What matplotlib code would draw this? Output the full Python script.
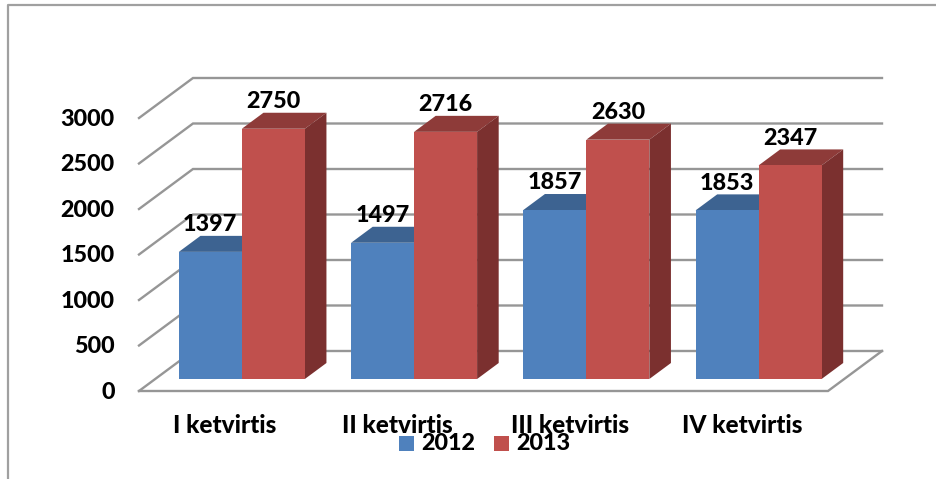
import matplotlib
matplotlib.use('Agg')
import matplotlib.pyplot as plt
from matplotlib.patches import Polygon, Rectangle

categories = ['I ketvirtis', 'II ketvirtis', 'III ketvirtis', 'IV ketvirtis']
values_2012 = [1397, 1497, 1857, 1853]
values_2013 = [2750, 2716, 2630, 2347]
yticks = [0, 500, 1000, 1500, 2000, 2500, 3000]

W, H = 936, 479
plt.rcParams['font.family'] = ['Lato', 'DejaVu Sans']

fig = plt.figure(figsize=(W / 100, H / 100), dpi=100)
fig.patch.set_facecolor('white')
# axes covers the front plane of the 3d box: 4 categories wide, 0-3000 high
ax = fig.add_axes([139 / W, 1 - 391 / H, 689 / W, 273 / H])
ax.set_xlim(0, 4)
ax.set_ylim(0, 3000)
ax.axis('off')

UX = 689 / 4
UY = 273 / 3000
DX, DY = 54, 40  # depth of the box in pixels


def pt(x, v, d=0.0):
    # oblique projection, d goes from 0 (front) to 1 (back wall)
    return (x + d * DX / UX, v + d * DY / UY)


GRID = '#969696'
for t in yticks:
    xs, ys = zip(pt(0, t), pt(0, t, 1), pt(4, t, 1))
    ax.plot(xs, ys, color=GRID, lw=1.7, clip_on=False, zorder=1, solid_joinstyle='miter')
xs, ys = zip(pt(0, 0), pt(4, 0), pt(4, 0, 1))
ax.plot(xs, ys, color=GRID, lw=1.7, clip_on=False, zorder=1, solid_joinstyle='miter')

BW = 63 / UX
D0, D1 = 0.3, 0.7
styles = {
    0: ('#4F81BD', '#3D6391', '#355680'),
    1: ('#C0504D', '#8E3B39', '#7B302F'),
}


def bar3d(x, v, cols, z):
    front, top, side = cols
    ax.add_patch(Polygon([pt(x, 0, D0), pt(x + BW, 0, D0), pt(x + BW, v, D0), pt(x, v, D0)],
                         fc=front, ec='none', zorder=z + 0.2, clip_on=False))
    ax.add_patch(Polygon([pt(x, v, D0), pt(x + BW, v, D0), pt(x + BW, v, D1), pt(x, v, D1)],
                         fc=top, ec='none', zorder=z, clip_on=False))
    ax.add_patch(Polygon([pt(x + BW, 0, D0), pt(x + BW, v, D0), pt(x + BW, v, D1), pt(x + BW, 0, D1)],
                         fc=side, ec='none', zorder=z, clip_on=False))


FS = 16.8
WT = 900
for i, cat in enumerate(categories):
    x0 = i + 0.5 - BW + 0.003
    bar3d(x0, values_2012[i], styles[0], 2)
    bar3d(x0 + BW, values_2013[i], styles[1], 3)
    for x, v in ((x0, values_2012[i]), (x0 + BW, values_2013[i])):
        px, pv = pt(x + BW / 2, v, D0)
        ax.annotate(str(v), (px, pv), xytext=(0, 19.5), textcoords='offset points', ha='center',
                    va='center', fontsize=FS, fontweight=WT, color='black', zorder=6,
                    annotation_clip=False)
    ax.annotate(cat, (i + 0.5, 0), xytext=(0, -24.5), textcoords='offset points', ha='center',
                va='center', fontsize=17.6, fontweight=WT, color='black', annotation_clip=False)

for t in yticks:
    ax.annotate(str(t), (0, t), xytext=(-17.5, -0.8), textcoords='offset points', ha='right',
                va='center', fontsize=FS, fontweight=WT, color='black', annotation_clip=False)

# legend + outer frame in figure pixels
for x, col, lab in ((399, '#4F81BD', '2012'), (494, '#C0504D', '2013')):
    fig.add_artist(Rectangle((x / W, 1 - 451 / H), 15 / W, 15 / H, fc=col, ec='none',
                             transform=fig.transFigure, zorder=7))
    fig.text((x + 22.5) / W, 1 - 443 / H, lab, fontsize=FS, fontweight=WT, va='center',
             ha='left', color='black', zorder=8)

fig.add_artist(plt.Line2D([8 / W, 8 / W, 1], [0, 1 - 5 / H, 1 - 5 / H],
                          color='#a0a0a0', lw=1.6, transform=fig.transFigure))

fig.savefig('out.png', dpi=100)
